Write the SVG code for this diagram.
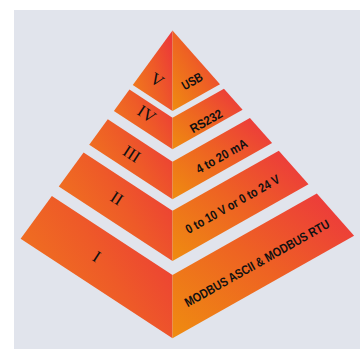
<svg xmlns="http://www.w3.org/2000/svg" width="361" height="349" viewBox="0 0 361 349">
  <defs>
    <linearGradient id="gL" x1="0" y1="0.8" x2="1" y2="0.2">
      <stop offset="0" stop-color="#f07a1c"/>
      <stop offset="0.55" stop-color="#ee5a28"/>
      <stop offset="1" stop-color="#ec3a38"/>
    </linearGradient>
    <linearGradient id="gR" x1="0" y1="1" x2="1" y2="0">
      <stop offset="0" stop-color="#ef8c10"/>
      <stop offset="0.5" stop-color="#ee6223"/>
      <stop offset="1" stop-color="#ec3340"/>
    </linearGradient>
    <style>
      .l { fill: url(#gL); }
      .r { fill: url(#gR); }
      .num { font-family: "Liberation Serif", "Times New Roman", serif; font-size: 17px; fill: #111; text-anchor: middle; }
      .lab { font-family: "Liberation Sans", Arial, sans-serif; font-weight: bold; font-size: 12.8px; fill: #111; text-anchor: middle; }
    </style>
  </defs>
  <rect x="14" y="10" width="346" height="339" fill="#e1e4ec"/>
  <g id="connectors"/>
  <g id="tier-V">
    <polygon class="l" points="172.5,30.5 172.5,111 132.78,84.98"/>
    <polygon class="r" points="172.5,30.5 220,84.17 172.5,111"/>
    <text class="num" transform="translate(157,80) rotate(33.2)" y="5.6">V</text>
    <text class="lab" transform="translate(192,81) rotate(-29.46)" y="4.6" textLength="22" lengthAdjust="spacingAndGlyphs">USB</text>
  </g>
  <g id="tier-IV">
    <polygon class="l" points="129.47,89.52 172.5,117.7 172.5,149.3 113.89,110.9"/>
    <polygon class="r" points="172.5,117.7 223.95,88.63 242.6,109.7 172.5,149.3"/>
    <text class="num" transform="translate(146.5,114) rotate(33.2)" y="5.6">IV</text>
    <text class="lab" transform="translate(206,121) rotate(-29.46)" y="4.6" textLength="35" lengthAdjust="spacingAndGlyphs">RS232</text>
  </g>
  <g id="tier-III">
    <polygon class="l" points="107.77,119.3 172.5,161.7 172.5,199.3 89.21,144.75"/>
    <polygon class="r" points="172.5,161.7 249.9,117.97 272.1,143.03 172.5,199.3"/>
    <text class="num" transform="translate(131.7,154) rotate(33.2)" y="5.6">III</text>
    <text class="lab" transform="translate(221.5,156) rotate(-29.46)" y="4.6" textLength="57" lengthAdjust="spacingAndGlyphs">4 to 20 mA</text>
  </g>
  <g id="tier-II">
    <polygon class="l" points="83.59,152.46 172.5,210.7 172.5,261 58.78,186.5"/>
    <polygon class="r" points="172.5,210.7 278.8,150.63 308.5,184.17 172.5,261"/>
    <text class="num" transform="translate(116.7,198.3) rotate(33.2)" y="5.6">II</text>
    <text class="lab" transform="translate(232.5,204) rotate(-29.46)" y="4.6" textLength="106" lengthAdjust="spacingAndGlyphs">0 to 10 V or 0 to 24 V</text>
  </g>
  <g id="tier-I">
    <polygon class="l" points="51.87,195.98 172.5,275 172.5,338.3 20.63,238.82"/>
    <polygon class="r" points="172.5,275 316.8,193.5 354.1,235.7 172.5,338.3"/>
    <text class="num" transform="translate(96.7,256.7) rotate(33.2)" y="5.6">I</text>
    <text class="lab" transform="translate(257,263) rotate(-29.46)" y="4.6" textLength="164" lengthAdjust="spacingAndGlyphs">MODBUS ASCII &amp; MODBUS RTU</text>
  </g>
</svg>
